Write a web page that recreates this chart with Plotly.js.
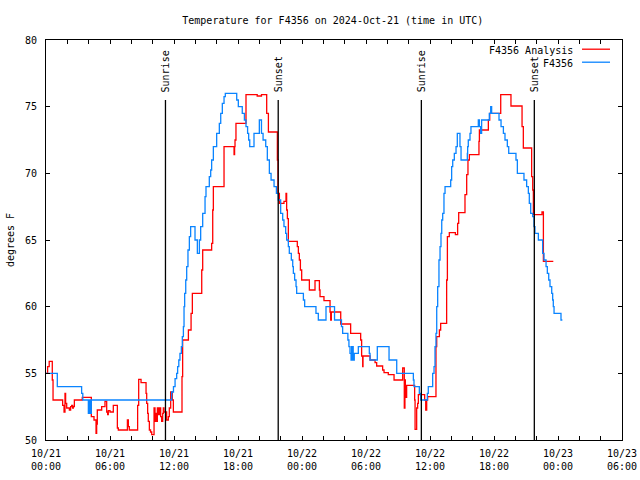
<!DOCTYPE html>
<html>
<head>
<meta charset="utf-8">
<script src="https://cdn.plot.ly/plotly-3.0.1.min.js"></script>
<style>html,body{margin:0;padding:0;background:#fff;}#chart{width:640px;height:480px;}</style>
</head>
<body>
<div id="chart"></div>
<script>
// hours since 2024-10-21 00:00 UTC
const blueH = [0,1.06,3.34,3.45,3.97,4.05,4.1,4.15,4.2,4.25,11.78,11.95,12.1,12.25,12.34,12.45,12.56,12.69,12.78,12.88,12.94,13.0,13.1,13.19,13.31,13.44,13.56,13.97,14.19,14.38,14.5,14.69,14.91,15.0,15.31,15.44,15.53,15.69,16.0,16.25,16.38,16.53,16.69,16.81,17.88,18.03,18.4,18.6,18.75,18.9,19.0,19.1,19.5,20.0,20.2,20.35,20.6,20.75,20.94,21.1,21.38,21.6,21.78,22.0,22.19,22.31,22.47,22.56,22.72,22.81,23.0,23.13,23.19,23.31,23.44,23.5,24.13,24.25,25.31,25.53,26.25,27.05,27.7,27.81,28.3,28.4,28.5,28.6,28.65,28.7,28.75,28.8,28.9,29.28,30.31,30.38,31.06,32.16,32.88,34.44,34.5,35.0,35.13,35.75,35.84,36.25,36.38,36.47,36.56,36.63,36.72,36.84,36.94,37.03,37.1,37.19,37.31,37.41,37.94,38.03,38.13,38.28,38.44,38.56,38.81,38.91,39.5,39.53,39.59,39.75,39.84,40.53,40.63,40.75,40.84,41.56,41.69,41.78,42.47,42.66,42.88,43.03,43.25,43.38,44.06,44.19,44.81,45.06,45.22,45.31,45.44,45.63,45.75,45.84,46.16,46.56,46.69,46.88,47.0,47.13,47.25,47.41,47.5,47.56,47.63,48.28,48.41,48.75];
const blueT = [55,54,53.5,53,52,53,52,53,52,53,53.6,54,54.6,55,55.5,56,56.5,57,57.75,58.5,60,61,62,63,64.25,65.25,66,65,64,65,66,67,68.25,69,69.75,70.25,71,72,73,73.75,74.5,75.25,75.75,76,75.5,75,74.5,74,73.5,73,72.5,72,73,74,73,72.5,72,71,70,69.5,69,68.5,68,67,66.5,66,65.5,65,64.5,64,63.5,63,62.5,62,61.5,61,60.5,60,59.5,59,60,59,58.5,58,57.5,57,56.5,56,57,56,57,56,56.5,57,56.5,56,57,56,55,54.5,54,53.5,53,53.5,54,55,55.5,57,58,60,61.5,63.5,64.5,65.5,66.5,67,68.5,69,69.5,70.5,71,71.5,72,73,72,71,71.5,72,72.5,73,73.5,74,73.5,73,74,74.5,75,74.5,74,73.5,73,72.5,72,71.5,71,70,69.5,69,68.5,67.75,67,66.75,66,65.5,65,64,63.5,63,62.5,62,61.5,61,60.5,60,59.5,59,59];

const redH = [0,0.15,0.3,0.59,0.66,1.56,1.69,1.78,1.84,1.94,2.19,2.31,2.41,2.5,2.56,2.66,3.4,4.25,4.5,4.69,4.75,4.81,5.22,5.53,5.69,5.78,5.84,6.0,6.31,6.69,6.78,7.63,7.72,7.81,8.59,8.69,8.91,9.38,9.44,9.53,9.59,9.69,9.8,9.91,10.13,10.22,10.31,10.38,10.44,10.53,10.63,10.75,10.84,10.94,11.0,11.06,11.31,11.47,11.56,11.69,11.84,11.94,12.75,12.81,13.35,13.6,13.72,14.6,14.69,15.53,15.63,15.69,16.69,17.63,17.68,17.72,17.81,18.75,19.8,20.2,20.69,20.85,21.69,21.75,21.88,22.31,22.5,22.56,22.63,22.72,23.56,23.66,23.75,23.85,23.97,24.69,25.22,25.63,25.69,26.06,26.63,26.69,26.75,27.63,28.56,29.5,29.59,29.69,29.72,30.38,30.85,31.0,31.56,31.69,32.09,32.63,33.44,33.59,33.65,33.69,33.75,33.81,34.56,34.6,34.75,34.84,34.91,35.5,35.6,35.69,35.78,36.56,36.63,36.88,37.0,37.56,37.63,37.81,38.38,38.59,38.69,39.28,39.44,39.56,39.69,40.59,40.63,41.47,41.6,42.63,43.59,44.63,44.75,45.53,45.63,45.69,46.5,46.63,47.56];
const redT = [55,55.5,55.9,54.5,53,52.6,52.1,53.5,52.75,52.4,52.25,52.5,52.6,52.4,52.5,53,53.2,51.75,51.5,50.5,51.2,52.25,52.5,52.9,52.1,51.9,52.2,52.1,52.6,50.9,50.75,51.5,51,50.75,52.6,54.55,54.3,53.5,52.75,52,51.4,50.75,50.6,50.4,52.4,51.4,52,51.4,52.4,51.9,52.4,51.75,51.4,52,52.4,52.1,51.5,51.75,52.4,53.6,53,52.1,54.75,57.5,58.25,59.5,61,62.75,64.25,64.75,67.25,69,72,71.4,72,72.5,73.75,75.9,75.8,75.9,74.5,73.1,71,68.5,67.75,67.9,68.5,67.25,66.6,64.9,64.5,64,63.5,62.75,62,61.25,61.95,61.25,60.75,60.45,59.6,59,59.6,58.7,58,57.5,56.3,55.5,56.3,56,55.8,55.55,55.25,55.05,54.9,54.5,55.4,52.4,54.5,53.9,53.2,54.1,53,50.8,52.4,52.75,53.4,53,52.25,53,53.25,57,57.75,58.25,58.75,62,65.25,65.55,65.4,66.25,67.05,68.4,69.9,71,71.4,72.4,73.25,74,74.5,75.9,75.05,73.5,71.9,69.75,68.75,66.9,67.1,63.4,63.4];

const seriesNames = ["F4356 Analysis", "F4356"];
const seriesColors = ["#ff0000", "#0a84ff"];

const sunH = [11.2, 21.77, 35.19, 45.78];
const sunLabels = ["Sunrise", "Sunset", "Sunrise", "Sunset"];
const sunTop = 75.5;

const tickHours = [0,2,4,6,8,10,12,14,16,18,20,22,24,26,28,30,32,34,36,38,40,42,44,46,48,50,52,54];
const labelHours = [0,6,12,18,24,30,36,42,48,54];
const dayLabels = ["10/21","10/21","10/21","10/21","10/22","10/22","10/22","10/22","10/23","10/23"];
const timeLabels = ["00:00","06:00","12:00","18:00","00:00","06:00","12:00","18:00","00:00","06:00"];

const FONT = "DejaVu Sans Mono, monospace";

const tickText = tickHours.map(h => {
  const i = labelHours.indexOf(h);
  return i >= 0 ? dayLabels[i] + "<br>" + timeLabels[i] : "";
});

const traces = [
  {x: redH, y: redT, type: "scatter", mode: "lines", line: {color: seriesColors[0], width: 1.3, shape: "hv"}, name: seriesNames[0], showlegend: false},
  {x: blueH, y: blueT, type: "scatter", mode: "lines", line: {color: seriesColors[1], width: 1.3, shape: "hv"}, name: seriesNames[1], showlegend: false}
];

// sunrise / sunset vertical lines
const sx = [], sy = [];
sunH.forEach(h => { sx.push(h, h, null); sy.push(50, sunTop, null); });
traces.push({x: sx, y: sy, type: "scatter", mode: "lines", line: {color: "#000", width: 1.3}, showlegend: false, hoverinfo: "skip"});

const annotations = sunH.map((h, i) => ({
  x: h, y: sunTop, xref: "x", yref: "y", text: sunLabels[i], showarrow: false,
  textangle: -90, xanchor: "center", yanchor: "bottom", yshift: 6,
  font: {family: FONT, size: 10, color: "#000"}
}));

// legend (text right, sample line on the right like gnuplot)
const shapes = [];
seriesNames.forEach((n, i) => {
  const yc = 0.975 - i * 0.0325;
  annotations.push({x: 0.918, y: yc, xref: "paper", yref: "paper", text: n, showarrow: false,
    xanchor: "right", yanchor: "middle", font: {family: FONT, size: 10, color: "#000"}});
  shapes.push({type: "line", xref: "paper", yref: "paper", x0: 0.9306, x1: 0.9792, y0: yc + 0.002, y1: yc + 0.002,
    line: {color: seriesColors[i], width: 1.3}});
});

const layout = {
  width: 640, height: 480,
  margin: {l: 46, r: 18, t: 40, b: 40, pad: 0},
  paper_bgcolor: "#fff", plot_bgcolor: "#fff",
  font: {family: FONT, size: 10, color: "#000"},
  title: {text: "Temperature for F4356 on 2024-Oct-21 (time in UTC)", xref: "container", x: 0.52, xanchor: "center",
    yref: "container", y: 0.958, yanchor: "middle", font: {family: FONT, size: 10, color: "#000"}},
  showlegend: false,
  xaxis: {range: [0, 54], tickmode: "array", tickvals: tickHours, ticktext: tickText,
    ticks: "inside", ticklen: 4, tickwidth: 1, tickcolor: "#000", showline: true, linecolor: "#000", linewidth: 1,
    mirror: "ticks", showgrid: false, zeroline: false, ticklabelstandoff: 4,
    tickfont: {family: FONT, size: 10, color: "#000"}},
  yaxis: {range: [50, 80], tickmode: "array", tickvals: [50,55,60,65,70,75,80],
    ticks: "inside", ticklen: 4, tickwidth: 1, tickcolor: "#000", showline: true, linecolor: "#000", linewidth: 1,
    mirror: "ticks", showgrid: false, zeroline: false, ticklabelstandoff: 6,
    tickfont: {family: FONT, size: 10, color: "#000"},
    title: {text: "degrees F", standoff: 8, font: {family: FONT, size: 10, color: "#000"}}},
  annotations: annotations,
  shapes: shapes
};

Plotly.newPlot("chart", traces, layout, {staticPlot: true, displayModeBar: false});
</script>
</body>
</html>
